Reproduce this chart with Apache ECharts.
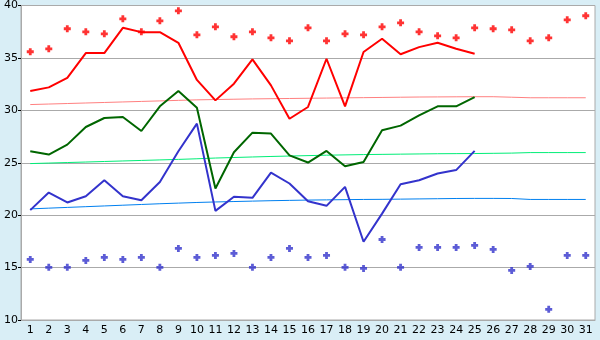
<!DOCTYPE html>
<html>
<head>
<meta charset="utf-8">
<script src="https://cdn.jsdelivr.net/npm/echarts@6/dist/echarts.min.js"></script>
<style>
  html, body { margin: 0; padding: 0; background: #d9eef6; }
  #chart { width: 600px; height: 340px; }
</style>
</head>
<body>
<div id="chart"></div>
<script>
var days = []
for (var d = 1; d <= 31; d++) days.push(String(d))

var yTicks = [10, 15, 20, 25, 30, 35, 40]

// daily lines (days 1-25)
var redLine = [31.84, 32.19, 33.1, 35.46, 35.46, 37.87, 37.46, 37.46, 36.44, 32.9, 30.95, 32.54, 34.86, 32.38, 29.2, 30.32, 34.92, 30.38, 35.56, 36.83, 35.35, 36.03, 36.44, 35.87, 35.4]
var greenLine = [26.1, 25.78, 26.73, 28.41, 29.27, 29.37, 28.03, 30.38, 31.84, 30.25, 22.54, 26.0, 27.87, 27.78, 25.71, 25.02, 26.13, 24.67, 25.08, 28.1, 28.54, 29.52, 30.38, 30.38, 31.27]
var blueLine = [20.48, 22.16, 21.21, 21.81, 23.33, 21.81, 21.43, 23.17, 26.1, 28.73, 20.41, 21.75, 21.65, 24.06, 23.02, 21.33, 20.89, 22.7, 17.46, 20.15, 22.95, 23.33, 23.97, 24.3, 26.13]

// scattered marks (all 31 days)
var redDots = [35.59, 35.87, 37.78, 37.49, 37.3, 38.73, 37.49, 38.54, 39.49, 37.2, 37.97, 37.02, 37.49, 36.92, 36.63, 37.87, 36.63, 37.3, 37.2, 37.97, 38.35, 37.49, 37.11, 36.92, 37.87, 37.78, 37.68, 36.63, 36.92, 38.63, 39.02]
var blueDots = [15.78, 15.02, 15.02, 15.68, 15.97, 15.78, 15.97, 15.02, 16.83, 15.97, 16.16, 16.35, 15.02, 15.97, 16.83, 15.97, 16.16, 15.02, 14.92, 17.68, 15.02, 16.92, 16.92, 16.92, 17.11, 16.73, 14.73, 15.11, 11.02, 16.16, 16.16]

// thin average lines
var pinkTrend = [30.55, 30.6, 30.65, 30.7, 30.75, 30.8, 30.85, 30.9, 30.95, 31.0, 31.03, 31.06, 31.09, 31.11, 31.13, 31.15, 31.17, 31.19, 31.21, 31.23, 31.25, 31.27, 31.28, 31.29, 31.3, 31.3, 31.25, 31.2, 31.2, 31.2, 31.2]
var greenTrend = [24.92, 24.97, 25.02, 25.07, 25.12, 25.17, 25.22, 25.27, 25.32, 25.38, 25.45, 25.5, 25.55, 25.6, 25.64, 25.68, 25.72, 25.75, 25.78, 25.8, 25.82, 25.84, 25.86, 25.87, 25.88, 25.9, 25.92, 25.97, 25.97, 25.97, 25.97]
var blueTrend = [20.6, 20.67, 20.74, 20.81, 20.88, 20.95, 21.02, 21.09, 21.15, 21.21, 21.26, 21.3, 21.34, 21.38, 21.41, 21.44, 21.46, 21.48, 21.5, 21.51, 21.53, 21.55, 21.57, 21.59, 21.6, 21.6, 21.59, 21.5, 21.5, 21.5, 21.5]

// fat plus marker
var plus = 'path://M1.8,0H4.2V1.8H6V4.2H4.2V6H1.8V4.2H0V1.8H1.8Z'
var font = 'DejaVu Sans'

function line(data, color, width) {
  return {
    type: 'line', data: data, symbol: 'none', silent: true,
    lineStyle: { color: color, width: width }, z: width > 1 ? 3 : 2
  }
}
function dots(data, color) {
  return {
    type: 'scatter', data: data, symbol: plus, symbolSize: 7,
    itemStyle: { color: color }, silent: true, z: 4
  }
}

var chart = echarts.init(document.getElementById('chart'))
chart.setOption({
  animation: false,
  backgroundColor: '#d9eef6',
  grid: {
    left: 21, top: 5, right: 5, bottom: 20,
    show: true, backgroundColor: '#ffffff', borderColor: '#aaaaaa', borderWidth: 1
  },
  xAxis: {
    type: 'category', data: days, boundaryGap: true,
    axisLine: { lineStyle: { color: '#aaaaaa' } },
    axisTick: { alignWithLabel: true, length: 4, lineStyle: { color: '#000000' } },
    axisLabel: { color: '#000000', fontFamily: font, fontSize: 11, margin: 5, interval: 0 },
    splitLine: { show: false }
  },
  yAxis: {
    type: 'value', min: yTicks[0], max: yTicks[yTicks.length - 1], interval: 5,
    axisLine: { show: true, lineStyle: { color: '#aaaaaa' } },
    axisTick: { show: true, length: 3, lineStyle: { color: '#000000' } },
    axisLabel: { color: '#000000', fontFamily: font, fontSize: 11, margin: 3 },
    splitLine: { lineStyle: { color: '#aaaaaa', width: 1 } }
  },
  series: [
    line(pinkTrend, '#ff8080', 1),
    line(greenTrend, '#00ee77', 1),
    line(blueTrend, '#0080f0', 1),
    line(redLine, '#ff0000', 2),
    line(greenLine, '#006600', 2),
    line(blueLine, '#3333cc', 2),
    dots(redDots, '#ff0000'),
    dots(blueDots, '#3333cc')
  ]
})
</script>
</body>
</html>
